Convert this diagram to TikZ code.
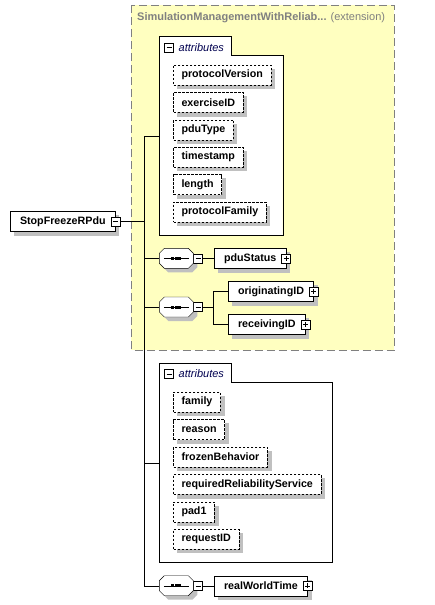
\documentclass[tikz,border=0pt]{standalone}
\usepackage{fontspec}
\setmainfont{Liberation Sans}
\usepackage {tikz}
\usetikzlibrary {positioning}
\definecolor{extfill}{RGB}{255,255,192}
\definecolor{extline}{RGB}{128,128,128}
\definecolor{shadowgray}{RGB}{192,192,192}
\definecolor{attrtext}{RGB}{0,0,80}
\pgfdeclarelayer{back}
\pgfdeclarelayer{shadow}
\pgfsetlayers{back,shadow,main}
\tikzstyle{element} = [rectangle, draw, fill=white, 
    minimum height=20pt, inner xsep=9.5pt, inner ysep=0pt, font=\fontsize{10.7}{12}\selectfont\bfseries]
\tikzstyle{attr} = [element, dash pattern=on 2.5pt off 1.5pt, inner xsep=8pt]
\tikzstyle{seqbox} = [rectangle, minimum width=34pt, minimum height=20pt, inner sep=0pt, outer sep=0pt]
\tikzstyle{minusbox} = [rectangle, draw, fill=white, minimum size=9pt, inner sep=0pt,
    path picture={\draw ([xshift=-2.5pt]path picture bounding box.center) -- ([xshift=2.5pt]path picture bounding box.center);}]
\tikzstyle{plusbox} = [rectangle, draw, fill=white, minimum size=9pt, inner sep=0pt,
    path picture={\draw ([xshift=-2.5pt]path picture bounding box.center) -- ([xshift=2.5pt]path picture bounding box.center);
      \draw ([yshift=-2.5pt]path picture bounding box.center) -- ([yshift=2.5pt]path picture bounding box.center);}]
\tikzstyle{group} = [draw, fill=white]
\tikzstyle{grouptitle} = [anchor=west, inner sep=0pt, text=attrtext, font=\fontsize{11}{12}\selectfont\itshape]
\tikzstyle{extbox} = [draw=extline, fill=extfill, dash pattern=on 8pt off 4pt]
\tikzstyle{shadowfill} = [fill=shadowgray, transform canvas={xshift=4pt, yshift=-4pt}]
\tikzstyle{line} = [draw]

\begin{document}
\begin{tikzpicture}[x=1pt, y=1pt, line width=1pt]
    \useasboundingbox (0,0) rectangle (435,-605);
    % extension area and attribute groups
    \begin{pgfonlayer}{back}
    \path [extbox] (131.3,-5.3) rectangle (394.3,-350);
    \path [group] (159.3,-36.3) -- (231.3,-36.3) -- (231.3,-55.3) -- (282.7,-55.3)
        -- (282.7,-235.3) -- (159.3,-235.3) -- cycle;
    \path [group] (159.3,-363.3) -- (231.3,-363.3) -- (231.3,-382.3) -- (331.7,-382.3)
        -- (331.7,-562.3) -- (159.3,-562.3) -- cycle;
    \end{pgfonlayer}
    \node [anchor=west, inner sep=0pt, text=extline, font=\fontsize{11}{12}\selectfont] (ext) at (137,-17.7)
        {\textbf{SimulationManagementWithReliab...} (extension)};
    \node [minusbox] (attAm) at (169,-47.2) {};
    \node [grouptitle] (attAt) at (178.5,-47.2) {attributes};
    \coordinate (attA) at (159.3,-136);
    \node [minusbox] (attBm) at (169,-373.8) {};
    \node [grouptitle] (attBt) at (178.5,-373.8) {attributes};
    \coordinate (attB) at (159.3,-463.3);
    % Place nodes
    \node [element, anchor=west] (root) at (10.3,-221.3) {StopFreezeRPdu};
    \node [minusbox] (rootm) at (root.east) {};
    \coordinate (trunk) at (144.3,-221.3);
    \node [attr, anchor=north west] (pv) at (173.3,-64.7) {protocolVersion};
    \node [attr, below=7pt of pv.south west, anchor=north west] (ex) {exerciseID};
    \node [attr, below=7pt of ex.south west, anchor=north west] (pt) {pduType};
    \node [attr, below=7pt of pt.south west, anchor=north west] (ts) {timestamp};
    \node [attr, below=7pt of ts.south west, anchor=north west] (len) {length};
    \node [attr, below=7pt of len.south west, anchor=north west] (pf) {protocolFamily};
    \node [seqbox] (s1) at (176.3,-258.3) {};
    \node [minusbox, right=0pt of s1] (s1m) {};
    \node [element, anchor=west] (pdu) at (214.3,-258.3) {pduStatus};
    \node [plusbox] (pdup) at (pdu.east) {};
    \node [seqbox] (s2) at (176.3,-307) {};
    \node [minusbox, right=0pt of s2] (s2m) {};
    \coordinate (fork) at (213.3,-307);
    \node [element, anchor=west] (orig) at (228.3,-291.5) {originatingID};
    \node [plusbox] (origp) at (orig.east) {};
    \node [element, anchor=west] (recv) at (228.3,-324.3) {receivingID};
    \node [plusbox] (recvp) at (recv.east) {};
    \node [attr, anchor=north west] (fam) at (173.3,-392) {family};
    \node [attr, below=7pt of fam.south west, anchor=north west] (rea) {reason};
    \node [attr, below=7pt of rea.south west, anchor=north west] (fb) {frozenBehavior};
    \node [attr, below=7pt of fb.south west, anchor=north west] (rrs) {requiredReliabilityService};
    \node [attr, below=7pt of rrs.south west, anchor=north west] (pad) {pad1};
    \node [attr, below=7pt of pad.south west, anchor=north west] (req) {requestID};
    \node [seqbox] (s3) at (176.3,-585.7) {};
    \node [minusbox, right=0pt of s3] (s3m) {};
    \node [element, anchor=west] (rwt) at (214.3,-585.7) {realWorldTime};
    \node [plusbox] (rwtp) at (rwt.east) {};
    % sequence octagons
    \foreach \s in {s1,s2,s3} {
      \begin{pgfonlayer}{shadow}
      \path [shadowfill] ([xshift=5pt]\s.north west) -- ([xshift=-5pt]\s.north east) -- ([yshift=-5pt]\s.north east)
          -- ([yshift=5pt]\s.south east) -- ([xshift=-5pt]\s.south east) -- ([xshift=5pt]\s.south west)
          -- ([yshift=5pt]\s.south west) -- ([yshift=-5pt]\s.north west) -- cycle;
      \end{pgfonlayer}
      \draw [fill=white] ([xshift=5pt]\s.north west) -- ([xshift=-5pt]\s.north east) -- ([yshift=-5pt]\s.north east)
          -- ([yshift=5pt]\s.south east) -- ([xshift=-5pt]\s.south east) -- ([xshift=5pt]\s.south west)
          -- ([yshift=5pt]\s.south west) -- ([yshift=-5pt]\s.north west) -- cycle;
      \draw ([xshift=-12.5pt]\s.center) -- ([xshift=12.5pt]\s.center);
      \fill ([xshift=-5pt, yshift=-1.5pt]\s.center) rectangle ++(3pt,3pt);
      \fill ([xshift=-1.5pt, yshift=-1.5pt]\s.center) rectangle ++(3pt,3pt);
      \fill ([xshift=2pt, yshift=-1.5pt]\s.center) rectangle ++(3pt,3pt);
    }
    % shadows
    \begin{pgfonlayer}{shadow}
    \foreach \n in {root,pv,ex,pt,ts,len,pf,pdu,orig,recv,fam,rea,fb,rrs,pad,req,rwt}
      \path [shadowfill] (\n.south west) rectangle (\n.north east);
    \end{pgfonlayer}
    % lines
    \path [line] (rootm.east) -- (trunk);
    \path [line] (trunk) |- (attA);
    \path [line] (trunk) |- (s1.west);
    \path [line] (trunk) |- (s2.west);
    \path [line] (trunk) |- (attB);
    \path [line] (trunk) |- (s3.west);
    \path [line] (s1m.east) -- (pdu.west);
    \path [line] (s2m.east) -- (fork) |- (orig.west);
    \path [line] (fork) |- (recv.west);
    \path [line] (s3m.east) -- (rwt.west);

\end{tikzpicture}
\end{document}
